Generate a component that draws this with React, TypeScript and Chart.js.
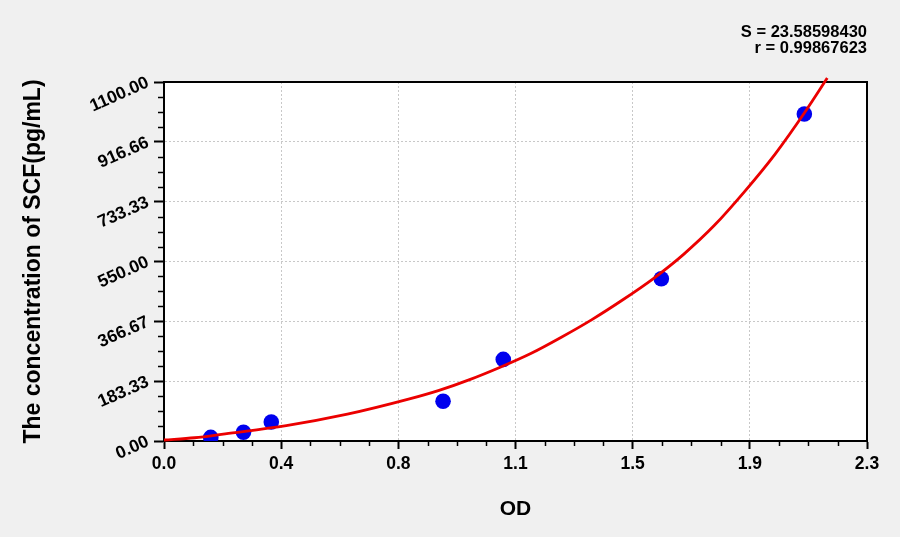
import { useEffect, useRef } from "react"
import { Chart, registerables } from "chart.js"

Chart.register(...registerables)

// standards: OD vs concentration (pg/mL)
const odValues = [0.153, 0.26, 0.351, 0.913, 1.11, 1.627, 2.095]
const concValues = [11, 27, 58, 122, 250, 497, 1002]

// fitted curve
const curveOd = [0, 0.1, 0.2, 0.4, 0.6, 0.8, 0.9, 1.0, 1.1, 1.2, 1.3, 1.4, 1.5, 1.6, 1.7, 1.8, 1.9, 2.0, 2.1, 2.17]
const curveConc = [3, 10, 22, 47, 82, 128, 155, 188, 226, 268, 318, 372, 432, 497, 572, 660, 765, 880, 1012, 1112]

const xTickValues = [0, 0.38333, 0.76667, 1.15, 1.53333, 1.91667, 2.3]
const xTickLabels = ["0.0", "0.4", "0.8", "1.1", "1.5", "1.9", "2.3"]
const yTickValues = [0, 183.33, 366.67, 550, 733.33, 916.66, 1100]
const yTickLabels = ["0.00", "183.33", "366.67", "550.00", "733.33", "916.66", "1100.00"]

const fitStats = ["S = 23.58598430", "r = 0.99867623"]

const FONT = "Arial, 'Liberation Sans', sans-serif"

const framePlugin = {
  id: "frame",
  beforeDraw(chart: any) {
    const { ctx, chartArea: a, width, height } = chart
    ctx.save()
    ctx.fillStyle = "#f0f0f0"
    ctx.fillRect(0, 0, width, height)
    ctx.fillStyle = "#ffffff"
    ctx.fillRect(a.left, a.top, a.right - a.left, a.bottom - a.top)
    ctx.restore()
  },
  beforeDatasetsDraw(chart: any) {
    const { ctx, chartArea: a, scales } = chart
    ctx.save()
    ctx.strokeStyle = "#000"
    ctx.lineWidth = 2
    ctx.beginPath()
    ctx.moveTo(a.left, a.top)
    ctx.lineTo(a.right, a.top)
    ctx.lineTo(a.right, a.bottom)
    ctx.stroke()

    // minor ticks, 3 between each pair of majors
    ctx.lineWidth = 1.5
    ctx.beginPath()
    for (let i = 0; i < xTickValues.length - 1; i++) {
      const step = (xTickValues[i + 1] - xTickValues[i]) / 4
      for (let k = 1; k < 4; k++) {
        const px = Math.round(scales.x.getPixelForValue(xTickValues[i] + step * k)) + 0.5
        ctx.moveTo(px, a.bottom)
        ctx.lineTo(px, a.bottom + 5)
      }
    }
    for (let i = 0; i < yTickValues.length - 1; i++) {
      const step = (yTickValues[i + 1] - yTickValues[i]) / 4
      for (let k = 1; k < 4; k++) {
        const py = Math.round(scales.y.getPixelForValue(yTickValues[i] + step * k)) + 0.5
        ctx.moveTo(a.left, py)
        ctx.lineTo(a.left - 6, py)
      }
    }
    ctx.stroke()
    ctx.restore()
  },
  afterDraw(chart: any) {
    const { ctx, chartArea: a } = chart
    ctx.save()
    ctx.fillStyle = "#000"
    ctx.font = `bold 16.5px ${FONT}`
    ctx.textAlign = "right"
    ctx.textBaseline = "alphabetic"
    ctx.fillText(fitStats[0], a.right, 36.5)
    ctx.fillText(fitStats[1], a.right, 52.5)
    ctx.restore()
  },
}

export default function App() {
  const chartRef = useRef<HTMLCanvasElement>(null)
  const chartInstance = useRef<Chart | null>(null)

  useEffect(() => {
    if (!chartRef.current) return
    if (chartInstance.current) chartInstance.current.destroy()

    const ctx = chartRef.current.getContext("2d")
    if (!ctx) return

    chartInstance.current = new Chart(ctx, {
      type: "scatter",
      data: {
        datasets: [
          {
            type: "line",
            data: curveOd.map((x, i) => ({ x, y: curveConc[i] })),
            borderColor: "rgb(235, 0, 0)",
            borderWidth: 2.8,
            pointRadius: 0,
            cubicInterpolationMode: "monotone",
            fill: false,
            clip: false,
            order: 0,
          } as any,
          {
            data: odValues.map((x, i) => ({ x, y: concValues[i] })),
            backgroundColor: "rgb(0, 0, 238)",
            borderWidth: 0,
            pointRadius: 7.8,
            order: 1,
          },
        ],
      },
      options: {
        animation: false,
        responsive: true,
        maintainAspectRatio: false,
        layout: { padding: { top: 82, right: 33, left: 0, bottom: 0 } },
        plugins: {
          legend: { display: false },
          tooltip: { enabled: false },
        },
        scales: {
          x: {
            type: "linear",
            min: 0,
            max: 2.3,
            afterFit: (s: any) => {
              s.height = 96
            },
            afterBuildTicks: (s: any) => {
              s.ticks = xTickValues.map((v) => ({ value: v }))
            },
            grid: {
              color: "#c8c8c8",
              lineWidth: 1,
              tickColor: "#000",
              tickWidth: 2,
              tickLength: 8,
            },
            border: { display: true, color: "#000", width: 2, dash: [2, 2] },
            ticks: {
              autoSkip: false,
              maxRotation: 0,
              padding: 5,
              color: "#000",
              font: { family: FONT, size: 17.5, weight: "bold" },
              callback: (_v: any, i: number) => xTickLabels[i],
            },
            title: {
              display: true,
              text: "OD",
              color: "#000",
              font: { family: FONT, size: 21, weight: "bold" },
              padding: { top: 0, bottom: 15 },
            },
          },
          y: {
            type: "linear",
            min: 0,
            max: 1100,
            afterFit: (s: any) => {
              s.width = 164
            },
            afterBuildTicks: (s: any) => {
              s.ticks = yTickValues.map((v) => ({ value: v }))
            },
            grid: {
              color: "#c8c8c8",
              lineWidth: 1,
              tickColor: "#000",
              tickWidth: 2,
              tickLength: 10,
            },
            border: { display: true, color: "#000", width: 2, dash: [2, 2] },
            ticks: {
              autoSkip: false,
              minRotation: 24,
              maxRotation: 24,
              padding: 6,
              color: "#000",
              font: { family: FONT, size: 17.5, weight: "bold" },
              callback: (_v: any, i: number) => yTickLabels[i],
            },
            title: {
              display: true,
              text: "The concentration of SCF(pg/mL)",
              color: "#000",
              font: { family: FONT, size: 23, weight: "bold" },
              padding: { top: 20, bottom: 0 },
            },
          },
        },
      },
      plugins: [framePlugin],
    })

    return () => {
      if (chartInstance.current) {
        chartInstance.current.destroy()
        chartInstance.current = null
      }
    }
  }, [])

  return (
    <div style={{ position: "fixed", left: 0, top: 0, width: 900, height: 537, background: "#f0f0f0" }}>
      <canvas ref={chartRef}></canvas>
    </div>
  )
}
